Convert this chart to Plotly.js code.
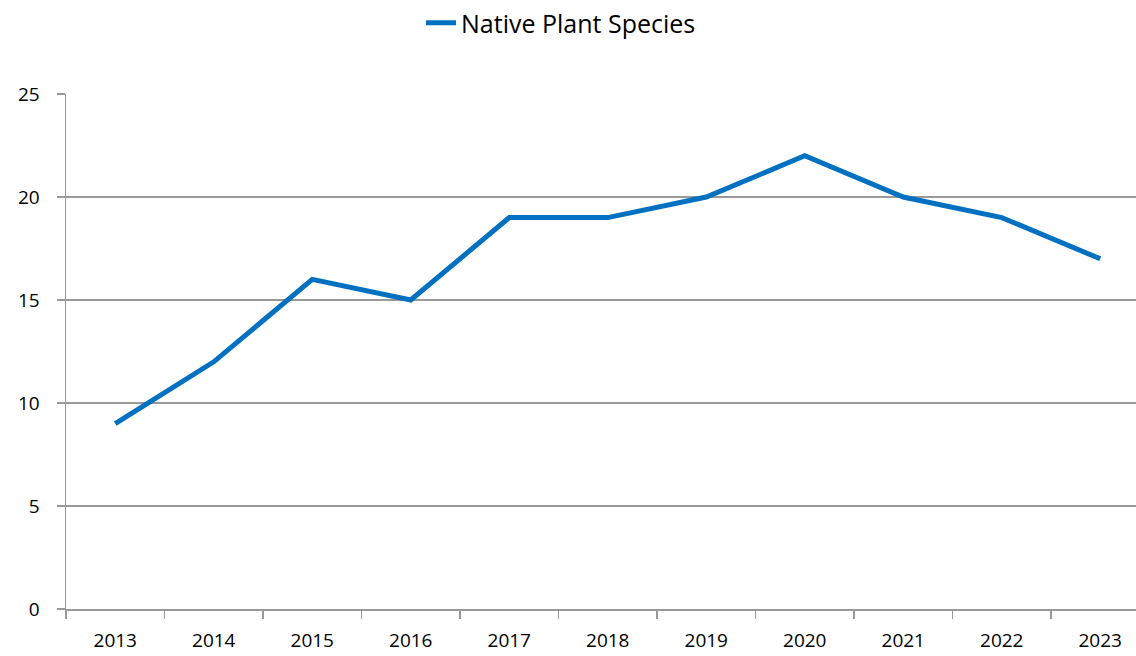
<!DOCTYPE html>
<html>
<head>
<meta charset="utf-8">
<script src="https://cdn.plot.ly/plotly-3.0.1.min.js"></script>
<style>html,body{margin:0;padding:0;background:#fff;}#chart{width:1136px;height:656px;}</style>
</head>
<body>
<div id="chart"></div>
<script>
const years = ["2013","2014","2015","2016","2017","2018","2019","2020","2021","2022","2023"];
const nativePlantSpecies = [9,12,16,15,19,19,20,22,20,19,17];
const seriesName = "Native Plant Species";
const yTicks = [0,5,10,15,20,25];

const trace = {
  x: years,
  y: nativePlantSpecies,
  type: "scatter",
  mode: "lines",
  name: seriesName,
  line: {color: "#0070C0", width: 5},
  showlegend: true
};

const layout = {
  width: 1136,
  height: 656,
  margin: {l: 66, r: 0, t: 93, b: 47, pad: 0},
  paper_bgcolor: "#ffffff",
  plot_bgcolor: "#ffffff",
  font: {family: "Open Sans, Noto Sans, sans-serif", size: 19, color: "#000"},
  showlegend: true,
  legend: {
    orientation: "h",
    x: 0.3318, xanchor: "left",
    y: 1.1375, yanchor: "middle",
    font: {size: 25, color: "#000"},
    itemwidth: 30,
    bgcolor: "rgba(0,0,0,0)"
  },
  xaxis: {
    type: "category",
    range: [-0.5, 10.363],
    tickson: "boundaries",
    ticks: "outside",
    ticklen: 8,
    tickwidth: 1.5,
    tickcolor: "#999",
    showline: true,
    linecolor: "#999",
    linewidth: 1.5,
    showgrid: false,
    zeroline: false,
    ticklabelstandoff: 14,
    tickfont: {size: 19, color: "#000"},
    fixedrange: true
  },
  yaxis: {
    range: [0, 25],
    tickvals: yTicks,
    ticks: "outside",
    ticklen: 8,
    tickwidth: 1.5,
    tickcolor: "#999",
    showline: true,
    linecolor: "#999",
    linewidth: 1.5,
    showgrid: true,
    gridcolor: "#999",
    gridwidth: 1.5,
    zeroline: false,
    ticklabelstandoff: 13,
    tickfont: {size: 19, color: "#000"},
    fixedrange: true
  }
};

Plotly.newPlot("chart", [trace], layout, {displayModeBar: false, staticPlot: true});
</script>
</body>
</html>
